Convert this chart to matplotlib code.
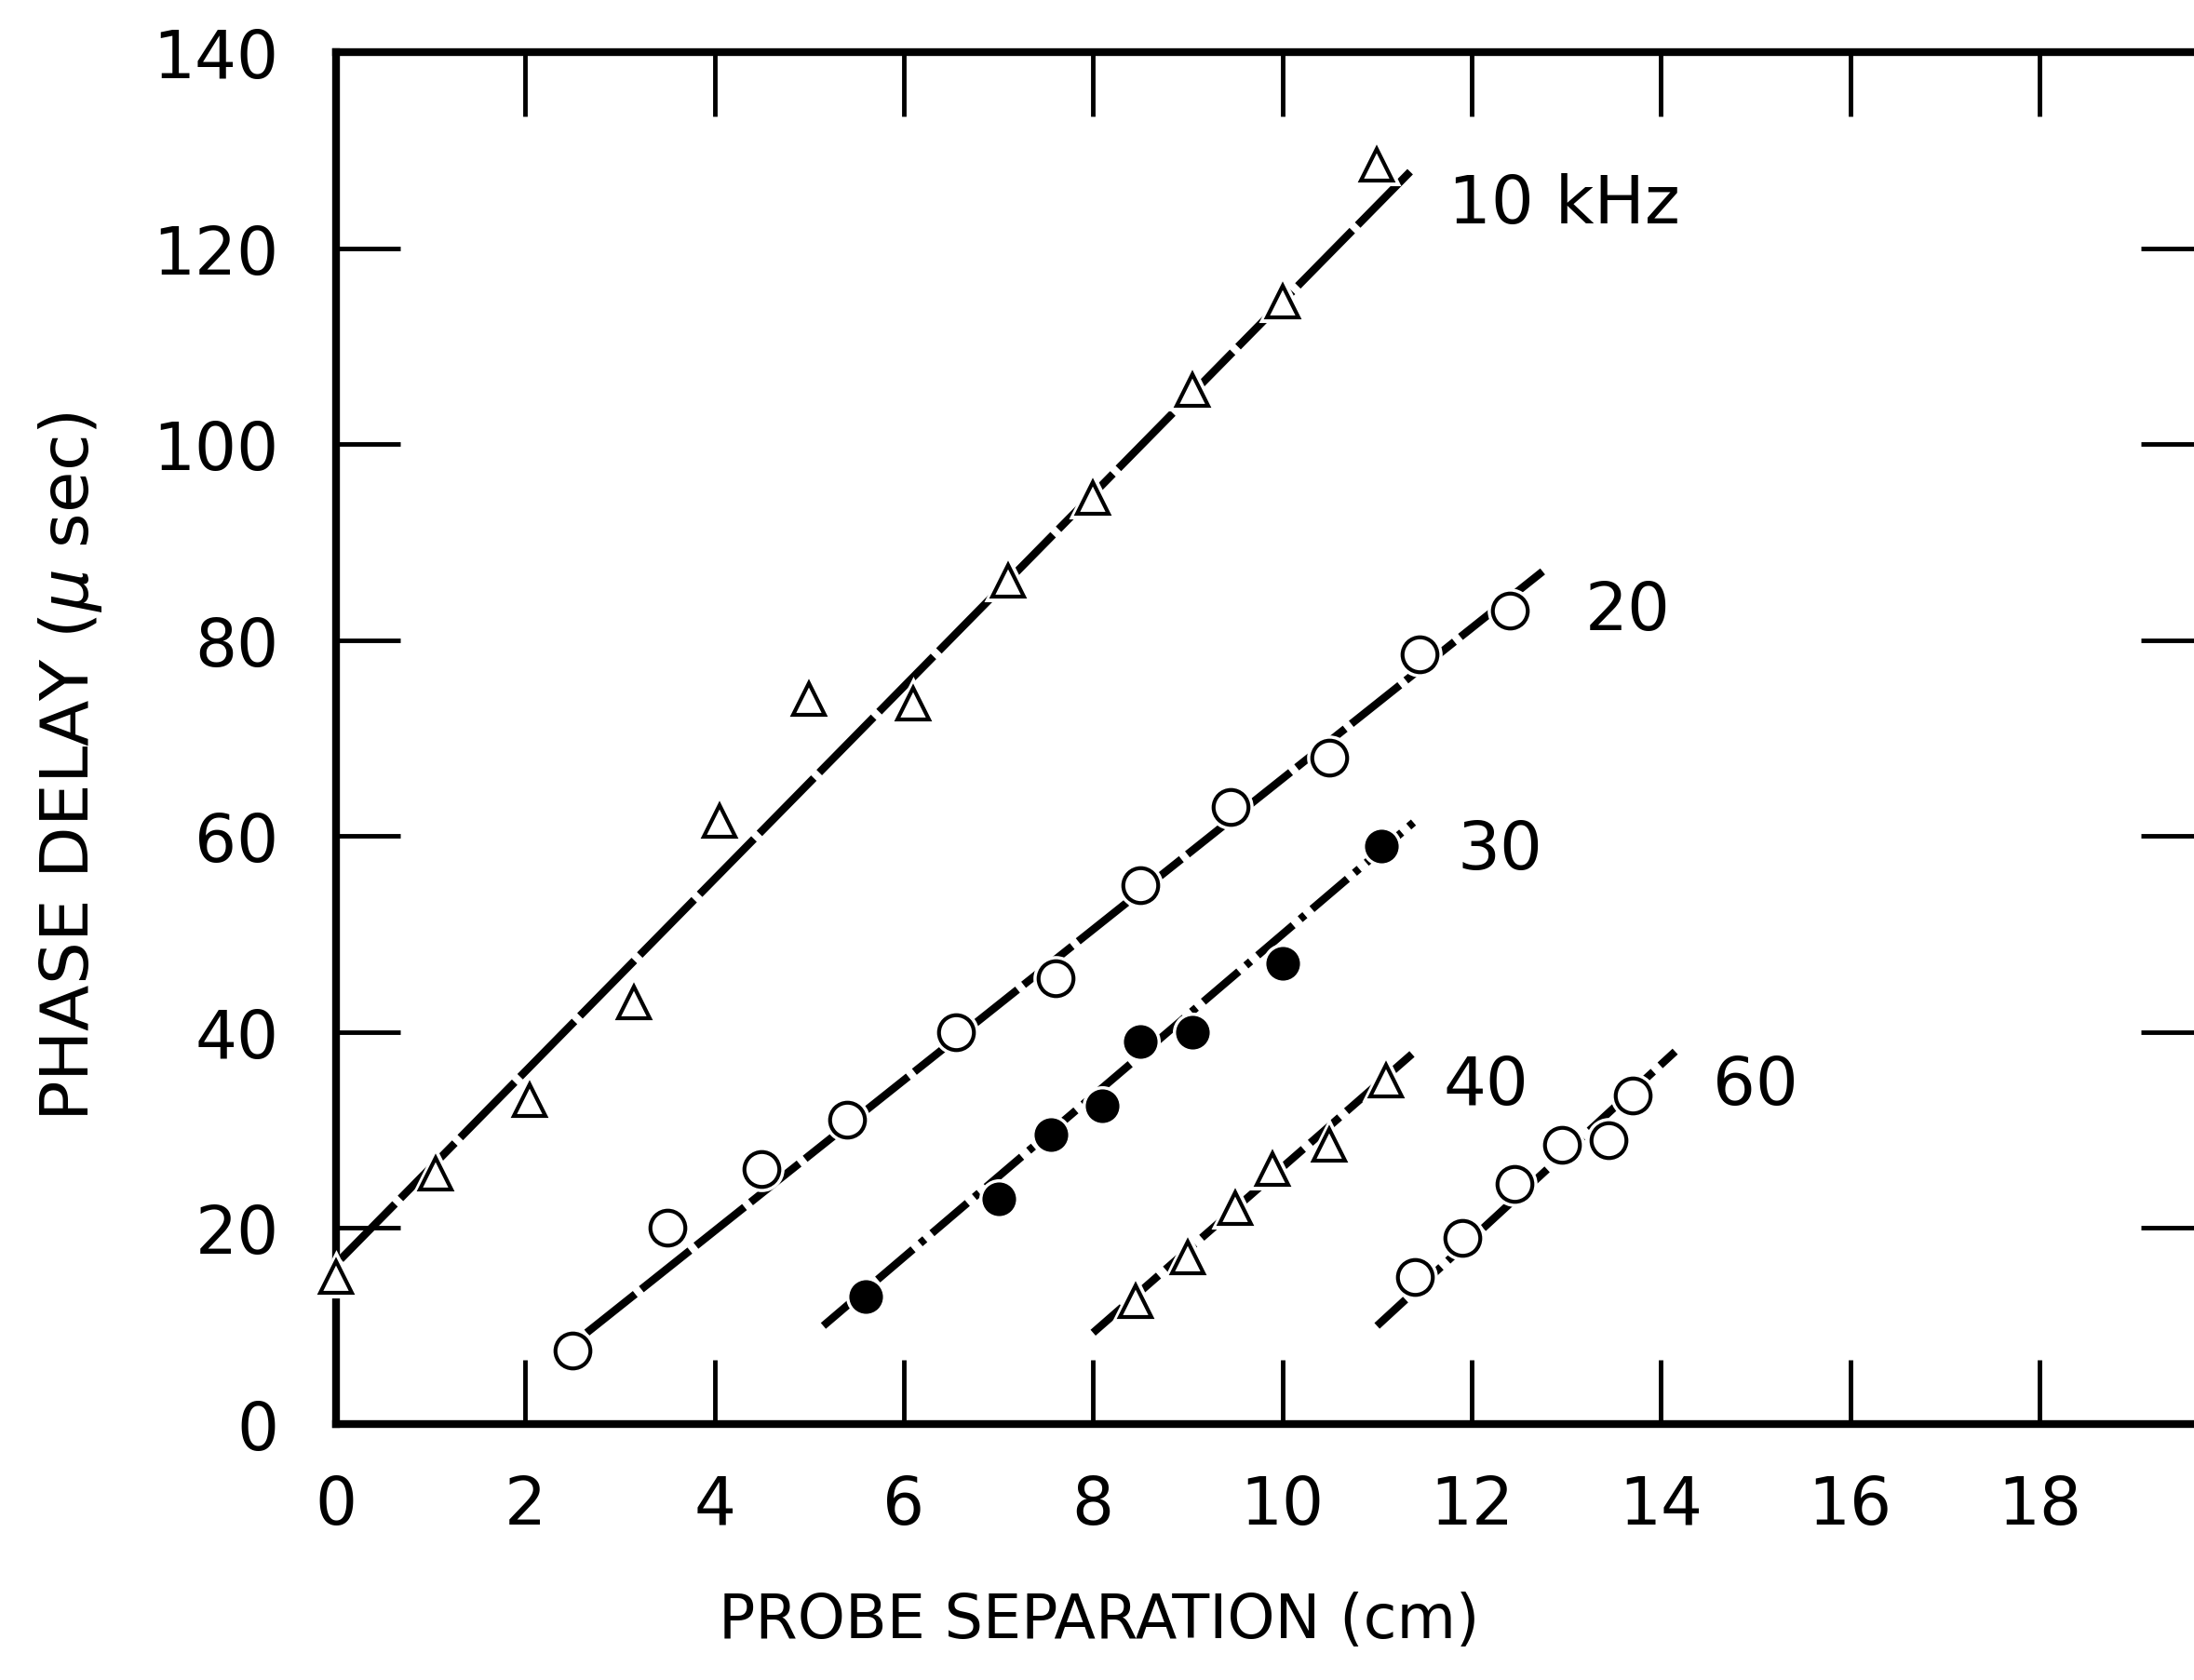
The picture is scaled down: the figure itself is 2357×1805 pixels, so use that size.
import matplotlib
matplotlib.use("Agg")
import matplotlib.pyplot as plt

# measured phase delay vs probe separation, per frequency
x10 = [0.0, 1.05, 2.05, 3.15, 4.05, 5.0, 6.1, 7.1, 8.0, 9.05, 10.0, 11.0]
y10 = [15, 25.5, 33, 43, 61.5, 74, 73.5, 86, 94.5, 105.5, 114.5, 128.5]
x20 = [2.5, 3.5, 4.5, 5.4, 6.55, 7.6, 8.5, 9.45, 10.5, 11.45, 12.4]
y20 = [7.5, 20, 26, 31, 40, 45.5, 55, 63, 68, 78.5, 83]
x30 = [5.6, 7.0, 7.55, 8.1, 8.5, 9.05, 10.0, 11.05]
y30 = [13, 23, 29.5, 32.5, 39, 40, 47, 59]
x40 = [8.45, 9.0, 9.5, 9.9, 10.5, 11.1]
y40 = [12.5, 17, 22, 26, 28.5, 35]
x60 = [11.4, 11.9, 12.45, 12.95, 13.45, 13.7]
y60 = [15, 19, 24.5, 28.5, 29, 33.5]

# fitted straight lines (end points)
fit10_x, fit10_y = [0.05, 11.35], [16.8, 127.8]
fit20_x, fit20_y = [2.65, 12.75], [9.3, 87.0]
fit30_x, fit30_y = [5.15, 11.4], [10.0, 61.5]
fit40_x, fit40_y = [8.0, 11.4], [9.3, 38.0]
fit60_x, fit60_y = [11.0, 14.15], [10.0, 38.0]

labels = ["10 kHz", "20", "30", "40", "60"]
label_x = [11.75, 13.2, 11.85, 11.7, 14.55]
label_y = [124.5, 83, 58.5, 34.5, 34.5]

xticks = [0, 2, 4, 6, 8, 10, 12, 14, 16, 18]
yticks = [0, 20, 40, 60, 80, 100, 120, 140]

plt.rcParams['font.family'] = ['DejaVu Sans']
fig = plt.figure(figsize=(23.57, 18.06), dpi=100)
ax = fig.add_axes([0.1531, 0.1524, 0.852, 0.816])

lw = 6
fits = [(fit10_x, fit10_y, (10, 1)),
        (fit20_x, fit20_y, (8, 1)),
        (fit30_x, fit30_y, (6, 1.2, 0.8, 1.2)),
        (fit40_x, fit40_y, (5, 1.2)),
        (fit60_x, fit60_y, (5, 1.2))]
for fx, fy, dash in fits:
    ax.plot(fx, fy, color='black', lw=lw, dashes=dash, solid_capstyle='butt', zorder=2)

series = [(x10, y10, '^', 'white', 24),
          (x20, y20, 'o', 'white', 27),
          (x30, y30, 'o', 'black', 23),
          (x40, y40, '^', 'white', 24),
          (x60, y60, 'o', 'white', 27)]
for sx, sy, m, fc, ms in series:
    # white halo so the line breaks around each marker
    ax.plot(sx, sy, ls='none', marker=m, ms=ms, mfc='white', mec='white', mew=8,
            zorder=3, clip_on=False)
    ax.plot(sx, sy, ls='none', marker=m, ms=ms, mfc=fc, mec='black', mew=3,
            zorder=4, clip_on=False)

for t, tx, ty in zip(labels, label_x, label_y):
    ax.text(tx, ty, t, fontsize=52, ha='left', va='center')

ax.set_xlim(0, 19.75)
ax.set_ylim(0, 140)
ax.set_xticks(xticks)
ax.set_yticks(yticks)
ax.tick_params(axis='both', direction='in', length=50, width=3.5, labelsize=51,
               top=True, right=True)
ax.tick_params(axis='x', pad=38)
ax.tick_params(axis='y', pad=44)
for s in ax.spines.values():
    s.set_linewidth(6)

ax.text(0.408, -0.143, "PROBE SEPARATION (cm)", transform=ax.transAxes,
        fontsize=47, ha='center', va='center')
ax.text(-0.142, 0.48, "PHASE DELAY ($\\mu$ sec)", transform=ax.transAxes,
        fontsize=52, ha='center', va='center', rotation=90)

fig.savefig("out.png", dpi=100)
